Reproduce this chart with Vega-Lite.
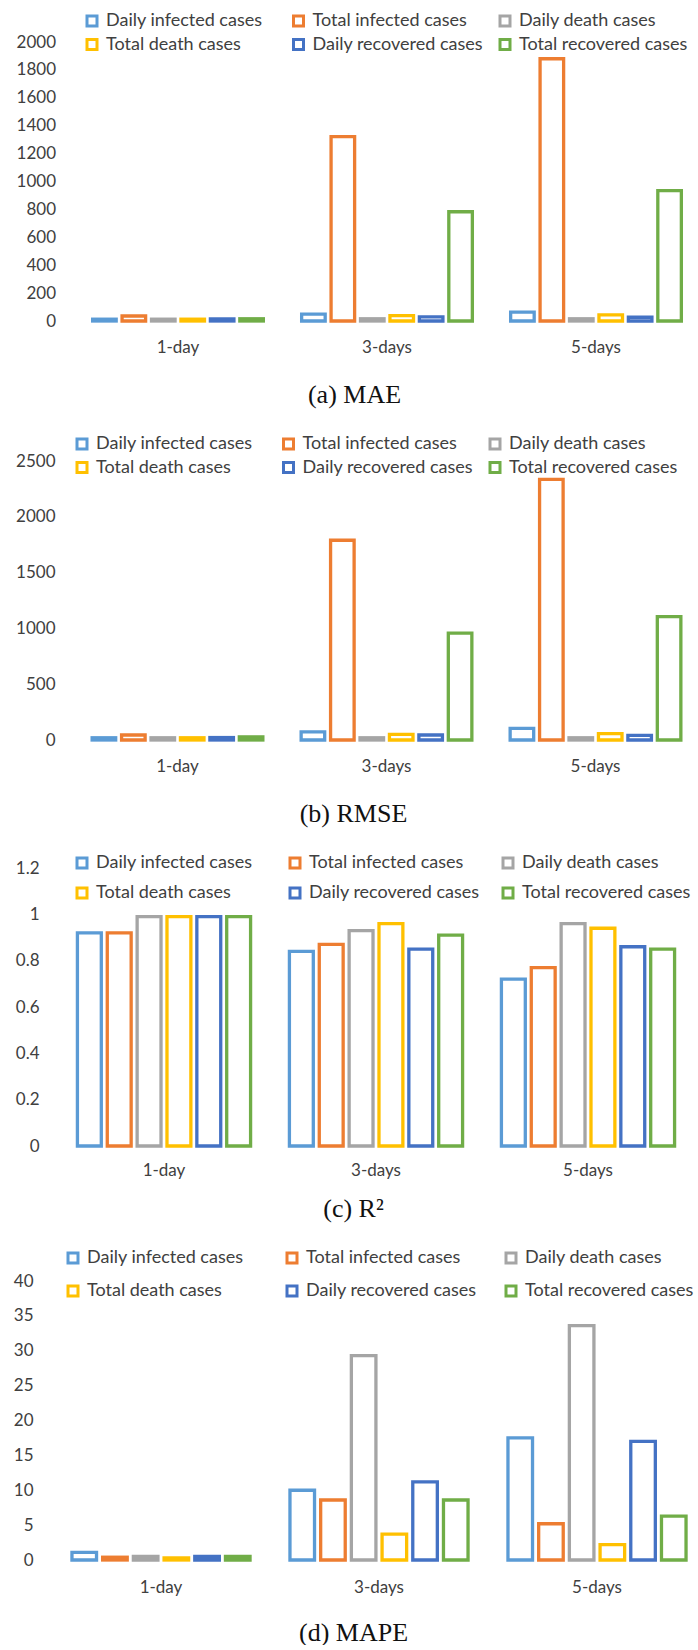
{
  "$schema": "https://vega.github.io/schema/vega-lite/v6.json",
  "background": "white",
  "padding": {"left": 13, "top": 12, "right": 0, "bottom": 0},
  "config": {
    "view": {"stroke": null},
    "font": "Lato",
    "axis": {"labelFont": "Lato", "labelFontSize": 17, "labelColor": "#404040", "domain": false, "ticks": false, "tickSize": 0, "grid": false, "titleFont": "Liberation Serif", "titleFontSize": 26, "titleFontWeight": "normal", "titleColor": "#111"},
    "legend": {"orient": "none", "columns": 3, "direction": "horizontal", "gridAlign": "all", "symbolType": "square", "symbolSize": 100, "symbolStrokeWidth": 3, "labelFont": "Lato", "labelFontSize": 18, "labelColor": "#404040", "labelOffset": 5, "padding": 0, "labelLimit": 0, "title": null}
  },
  "datasets": {
    "d": [
      {"m": "MAE", "h": "1-day", "s": "Daily infected cases", "v": 13},
      {"m": "MAE", "h": "1-day", "s": "Total infected cases", "v": 36},
      {"m": "MAE", "h": "1-day", "s": "Daily death cases", "v": 13},
      {"m": "MAE", "h": "1-day", "s": "Total death cases", "v": 13},
      {"m": "MAE", "h": "1-day", "s": "Daily recovered cases", "v": 15},
      {"m": "MAE", "h": "1-day", "s": "Total recovered cases", "v": 16},
      {"m": "MAE", "h": "3-days", "s": "Daily infected cases", "v": 49},
      {"m": "MAE", "h": "3-days", "s": "Total infected cases", "v": 1322},
      {"m": "MAE", "h": "3-days", "s": "Daily death cases", "v": 16},
      {"m": "MAE", "h": "3-days", "s": "Total death cases", "v": 39},
      {"m": "MAE", "h": "3-days", "s": "Daily recovered cases", "v": 30},
      {"m": "MAE", "h": "3-days", "s": "Total recovered cases", "v": 783},
      {"m": "MAE", "h": "5-days", "s": "Daily infected cases", "v": 63},
      {"m": "MAE", "h": "5-days", "s": "Total infected cases", "v": 1880},
      {"m": "MAE", "h": "5-days", "s": "Daily death cases", "v": 16},
      {"m": "MAE", "h": "5-days", "s": "Total death cases", "v": 44},
      {"m": "MAE", "h": "5-days", "s": "Daily recovered cases", "v": 27},
      {"m": "MAE", "h": "5-days", "s": "Total recovered cases", "v": 934},
      {"m": "RMSE", "h": "1-day", "s": "Daily infected cases", "v": 20},
      {"m": "RMSE", "h": "1-day", "s": "Total infected cases", "v": 45},
      {"m": "RMSE", "h": "1-day", "s": "Daily death cases", "v": 20},
      {"m": "RMSE", "h": "1-day", "s": "Total death cases", "v": 20},
      {"m": "RMSE", "h": "1-day", "s": "Daily recovered cases", "v": 22},
      {"m": "RMSE", "h": "1-day", "s": "Total recovered cases", "v": 28},
      {"m": "RMSE", "h": "3-days", "s": "Daily infected cases", "v": 72},
      {"m": "RMSE", "h": "3-days", "s": "Total infected cases", "v": 1790},
      {"m": "RMSE", "h": "3-days", "s": "Daily death cases", "v": 20},
      {"m": "RMSE", "h": "3-days", "s": "Total death cases", "v": 50},
      {"m": "RMSE", "h": "3-days", "s": "Daily recovered cases", "v": 45},
      {"m": "RMSE", "h": "3-days", "s": "Total recovered cases", "v": 958},
      {"m": "RMSE", "h": "5-days", "s": "Daily infected cases", "v": 105},
      {"m": "RMSE", "h": "5-days", "s": "Total infected cases", "v": 2335},
      {"m": "RMSE", "h": "5-days", "s": "Daily death cases", "v": 20},
      {"m": "RMSE", "h": "5-days", "s": "Total death cases", "v": 58},
      {"m": "RMSE", "h": "5-days", "s": "Daily recovered cases", "v": 42},
      {"m": "RMSE", "h": "5-days", "s": "Total recovered cases", "v": 1105},
      {"m": "R2", "h": "1-day", "s": "Daily infected cases", "v": 0.92},
      {"m": "R2", "h": "1-day", "s": "Total infected cases", "v": 0.92},
      {"m": "R2", "h": "1-day", "s": "Daily death cases", "v": 0.99},
      {"m": "R2", "h": "1-day", "s": "Total death cases", "v": 0.99},
      {"m": "R2", "h": "1-day", "s": "Daily recovered cases", "v": 0.99},
      {"m": "R2", "h": "1-day", "s": "Total recovered cases", "v": 0.99},
      {"m": "R2", "h": "3-days", "s": "Daily infected cases", "v": 0.84},
      {"m": "R2", "h": "3-days", "s": "Total infected cases", "v": 0.87},
      {"m": "R2", "h": "3-days", "s": "Daily death cases", "v": 0.93},
      {"m": "R2", "h": "3-days", "s": "Total death cases", "v": 0.96},
      {"m": "R2", "h": "3-days", "s": "Daily recovered cases", "v": 0.85},
      {"m": "R2", "h": "3-days", "s": "Total recovered cases", "v": 0.91},
      {"m": "R2", "h": "5-days", "s": "Daily infected cases", "v": 0.72},
      {"m": "R2", "h": "5-days", "s": "Total infected cases", "v": 0.77},
      {"m": "R2", "h": "5-days", "s": "Daily death cases", "v": 0.96},
      {"m": "R2", "h": "5-days", "s": "Total death cases", "v": 0.94},
      {"m": "R2", "h": "5-days", "s": "Daily recovered cases", "v": 0.86},
      {"m": "R2", "h": "5-days", "s": "Total recovered cases", "v": 0.85},
      {"m": "MAPE", "h": "1-day", "s": "Daily infected cases", "v": 1.1},
      {"m": "MAPE", "h": "1-day", "s": "Total infected cases", "v": 0.4},
      {"m": "MAPE", "h": "1-day", "s": "Daily death cases", "v": 0.5},
      {"m": "MAPE", "h": "1-day", "s": "Total death cases", "v": 0.3},
      {"m": "MAPE", "h": "1-day", "s": "Daily recovered cases", "v": 0.5},
      {"m": "MAPE", "h": "1-day", "s": "Total recovered cases", "v": 0.5},
      {"m": "MAPE", "h": "3-days", "s": "Daily infected cases", "v": 10.0},
      {"m": "MAPE", "h": "3-days", "s": "Total infected cases", "v": 8.6},
      {"m": "MAPE", "h": "3-days", "s": "Daily death cases", "v": 29.3},
      {"m": "MAPE", "h": "3-days", "s": "Total death cases", "v": 3.7},
      {"m": "MAPE", "h": "3-days", "s": "Daily recovered cases", "v": 11.2},
      {"m": "MAPE", "h": "3-days", "s": "Total recovered cases", "v": 8.6},
      {"m": "MAPE", "h": "5-days", "s": "Daily infected cases", "v": 17.5},
      {"m": "MAPE", "h": "5-days", "s": "Total infected cases", "v": 5.2},
      {"m": "MAPE", "h": "5-days", "s": "Daily death cases", "v": 33.6},
      {"m": "MAPE", "h": "5-days", "s": "Total death cases", "v": 2.2},
      {"m": "MAPE", "h": "5-days", "s": "Daily recovered cases", "v": 17.0},
      {"m": "MAPE", "h": "5-days", "s": "Total recovered cases", "v": 6.3}
    ]
  },
  "columns": 1,
  "spacing": 28,
  "resolve": {"scale": {"color": "independent", "x": "independent", "y": "independent", "xOffset": "independent"}, "legend": {"color": "independent"}},
  "concat": [
    {
      "width": 649, "height": 279,
      "data": {"name": "d"},
      "transform": [{"filter": "datum.m === 'MAE'"}],
      "mark": {"type": "bar", "filled": false, "strokeWidth": 3.3},
      "encoding": {
        "x": {"field": "h", "type": "nominal", "sort": ["1-day", "3-days", "5-days"], "scale": {"range": [21.5, 648.5], "paddingInner": 0.155, "paddingOuter": 0.0775},
              "axis": {"title": "(a) MAE", "labelAngle": 0, "labelPadding": 18, "titlePadding": 26, "titleX": 302, "titleAlign": "center"}},
        "xOffset": {"field": "s", "type": "nominal", "sort": ["Daily infected cases", "Total infected cases", "Daily death cases", "Total death cases", "Daily recovered cases", "Total recovered cases"], "scale": {"paddingInner": 0.2, "paddingOuter": 0.1}},
        "y": {"field": "v", "type": "quantitative", "scale": {"domain": [0, 2000], "nice": false}, "axis": {"title": null, "offset": -21.5, "values": [0, 200, 400, 600, 800, 1000, 1200, 1400, 1600, 1800, 2000], "format": "~r", "labelPadding": 18}},
        "color": {"field": "s", "type": "nominal",
                  "scale": {"domain": ["Daily infected cases", "Total infected cases", "Daily death cases", "Total death cases", "Daily recovered cases", "Total recovered cases"], "range": ["#5B9BD5", "#ED7D31", "#A5A5A5", "#FFC000", "#4472C4", "#70AD47"]},
                  "legend": {"legendX": 31, "legendY": -30, "columnPadding": 10.5, "rowPadding": 1.5}}
      }
    },
    {
      "width": 648, "height": 279,
      "data": {"name": "d"},
      "transform": [{"filter": "datum.m === 'RMSE'"}],
      "mark": {"type": "bar", "filled": false, "strokeWidth": 3.3},
      "encoding": {
        "x": {"field": "h", "type": "nominal", "sort": ["1-day", "3-days", "5-days"], "scale": {"range": [21, 648], "paddingInner": 0.155, "paddingOuter": 0.0775},
              "axis": {"title": "(b) RMSE", "labelAngle": 0, "labelPadding": 18, "titlePadding": 26, "titleX": 301, "titleAlign": "center"}},
        "xOffset": {"field": "s", "type": "nominal", "sort": ["Daily infected cases", "Total infected cases", "Daily death cases", "Total death cases", "Daily recovered cases", "Total recovered cases"], "scale": {"paddingInner": 0.2, "paddingOuter": 0.1}},
        "y": {"field": "v", "type": "quantitative", "scale": {"domain": [0, 2500], "nice": false}, "axis": {"title": null, "offset": -21, "values": [0, 500, 1000, 1500, 2000, 2500], "format": "~r", "labelPadding": 18}},
        "color": {"field": "s", "type": "nominal",
                  "scale": {"domain": ["Daily infected cases", "Total infected cases", "Daily death cases", "Total death cases", "Daily recovered cases", "Total recovered cases"], "range": ["#5B9BD5", "#ED7D31", "#A5A5A5", "#FFC000", "#4472C4", "#70AD47"]},
                  "legend": {"legendX": 21, "legendY": -26, "columnPadding": 10.5, "rowPadding": 1.5}}
      }
    },
    {
      "width": 642, "height": 278,
      "data": {"name": "d"},
      "transform": [{"filter": "datum.m === 'R2'"}],
      "mark": {"type": "bar", "filled": false, "strokeWidth": 3.3},
      "encoding": {
        "x": {"field": "h", "type": "nominal", "sort": ["1-day", "3-days", "5-days"], "scale": {"range": [6, 642], "paddingInner": 0.155, "paddingOuter": 0.0775},
              "axis": {"title": "(c) R²", "labelAngle": 0, "labelPadding": 16, "titlePadding": 17, "titleX": 301, "titleAlign": "center"}},
        "xOffset": {"field": "s", "type": "nominal", "sort": ["Daily infected cases", "Total infected cases", "Daily death cases", "Total death cases", "Daily recovered cases", "Total recovered cases"], "scale": {"paddingInner": 0.2, "paddingOuter": 0.1}},
        "y": {"field": "v", "type": "quantitative", "scale": {"domain": [0, 1.2], "nice": false}, "axis": {"title": null, "offset": -6, "values": [0, 0.2, 0.4, 0.6, 0.8, 1, 1.2], "format": "~r", "labelPadding": 19}},
        "color": {"field": "s", "type": "nominal",
                  "scale": {"domain": ["Daily infected cases", "Total infected cases", "Daily death cases", "Total death cases", "Daily recovered cases", "Total recovered cases"], "range": ["#5B9BD5", "#ED7D31", "#A5A5A5", "#FFC000", "#4472C4", "#70AD47"]},
                  "legend": {"legendX": 21, "legendY": -14, "columnPadding": 17, "rowPadding": 8}}
      }
    },
    {
      "width": 654, "height": 279,
      "data": {"name": "d"},
      "transform": [{"filter": "datum.m === 'MAPE'"}],
      "mark": {"type": "bar", "filled": false, "strokeWidth": 3.3},
      "encoding": {
        "x": {"field": "h", "type": "nominal", "sort": ["1-day", "3-days", "5-days"], "scale": {"range": [0, 654], "paddingInner": 0.155, "paddingOuter": 0.0775},
              "axis": {"title": "(d) MAPE", "labelAngle": 0, "labelPadding": 19, "titlePadding": 24, "titleX": 301, "titleAlign": "center"}},
        "xOffset": {"field": "s", "type": "nominal", "sort": ["Daily infected cases", "Total infected cases", "Daily death cases", "Total death cases", "Daily recovered cases", "Total recovered cases"], "scale": {"paddingInner": 0.2, "paddingOuter": 0.1}},
        "y": {"field": "v", "type": "quantitative", "scale": {"domain": [0, 40], "nice": false}, "axis": {"title": null, "values": [0, 5, 10, 15, 20, 25, 30, 35, 40], "format": "~r", "labelPadding": 19}},
        "color": {"field": "s", "type": "nominal",
                  "scale": {"domain": ["Daily infected cases", "Total infected cases", "Daily death cases", "Total death cases", "Daily recovered cases", "Total recovered cases"], "range": ["#5B9BD5", "#ED7D31", "#A5A5A5", "#FFC000", "#4472C4", "#70AD47"]},
                  "legend": {"legendX": 12, "legendY": -32, "columnPadding": 23, "rowPadding": 11}}
      }
    }
  ]
}
